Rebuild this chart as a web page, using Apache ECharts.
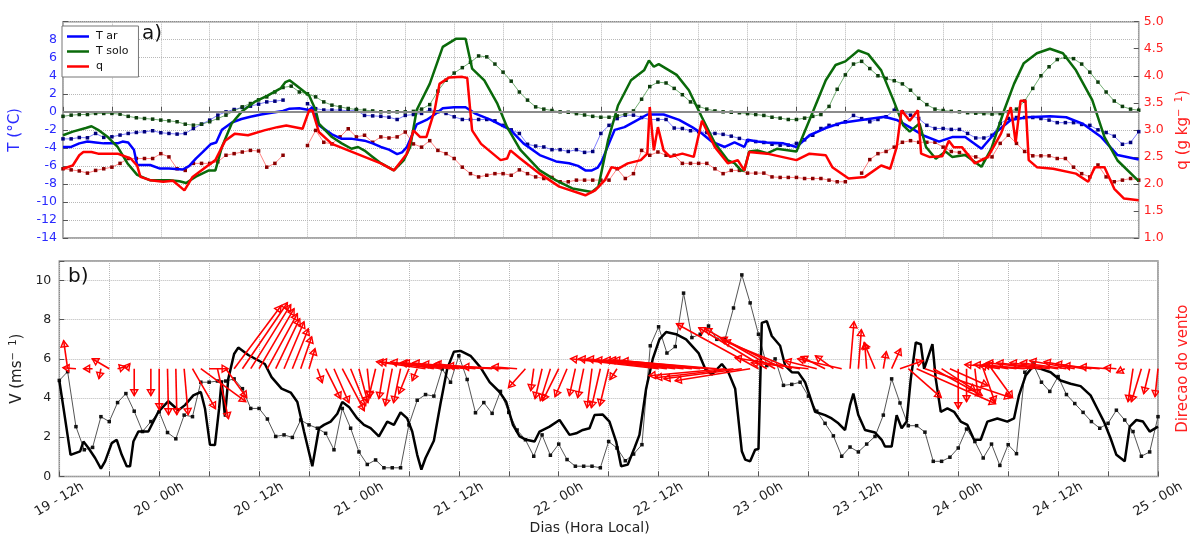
<!DOCTYPE html>
<html><head><meta charset="utf-8">
<script src="https://cdn.jsdelivr.net/npm/echarts@6/dist/echarts.min.js"></script>
<style>html,body{margin:0;padding:0;background:#fff}#chart{width:1199px;height:536px}</style>
</head><body><div id="chart"></div>
<script>
// Time axis: hours counted from 19 - 12h (local time) up to 25 - 00h
const T_START = 0, T_END = 132;

// Continuous records [hour, value]
const tAr = [[0,-3.9],[1,-3.9],[2,-3.5],[3,-3.3],[4,-3.4],[5,-3.5],[6,-3.5],[6.7,-3.5],[7.3,-3.3],[8,-3.4],[8.7,-4.2],[9.1,-5.9],[10.7,-5.9],[11.9,-6.3],[13,-6.3],[14.7,-6.4],[15.5,-6.0],[16.3,-5.2],[17.1,-4.5],[18.1,-3.6],[18.8,-3.4],[19.5,-2.0],[20.7,-1.2],[21.9,-0.8],[23,-0.55],[24.3,-0.3],[25.6,-0.1],[27,0.1],[27.8,0.35],[29,0.4],[30.2,0.2],[30.6,0.5],[31.4,-1.5],[32.2,-2.0],[33,-2.5],[34.2,-3.0],[35.5,-3.0],[37,-3.2],[38,-3.5],[39,-3.9],[40,-4.2],[41,-4.7],[41.6,-4.5],[42.2,-3.9],[43.4,-1.4],[44.6,-0.9],[45.6,-0.3],[46.6,0.4],[48,0.5],[49.4,0.5],[50.6,-0.2],[52.5,-0.9],[54.9,-2.0],[56.5,-3.5],[58.5,-4.8],[60.5,-5.5],[62.1,-5.7],[63.2,-6.0],[64.1,-6.5],[64.9,-6.5],[65.6,-6.2],[66.1,-5.5],[67,-3.5],[67.7,-2.0],[68.9,-1.7],[70.3,-1.0],[71.7,-0.3],[73.7,-0.3],[75.6,-0.9],[77.2,-1.7],[78.4,-2.4],[79.6,-3.3],[81.2,-3.9],[82.4,-3.4],[83.6,-3.9],[84,-3.1],[85.2,-3.3],[86.4,-3.4],[88.4,-3.5],[90,-3.9],[91.6,-2.6],[93.6,-1.8],[95.6,-1.2],[98.4,-0.85],[100.8,-0.55],[102.3,-0.9],[103.9,-1.7],[105.5,-2.6],[107.5,-3.3],[109.1,-2.8],[110.7,-2.8],[112.7,-4.1],[114.3,-2.4],[116.3,-0.9],[118.3,-0.6],[121.1,-0.5],[123.1,-0.6],[125.1,-1.3],[127.4,-2.8],[129.4,-4.8],[131,-5.1],[132,-5.3]];

const tSolo = [[0,-2.6],[1.2,-2.2],[2.8,-1.8],[3.5,-1.6],[4.3,-2.0],[5.5,-2.8],[6.7,-3.9],[7.9,-5.7],[9.1,-7.0],[10.7,-7.6],[13.1,-7.6],[14.3,-7.7],[15.1,-7.9],[16.3,-7.2],[17.9,-6.5],[18.7,-6.5],[19.5,-3.9],[20.7,-1.3],[21.9,0],[23.5,1.1],[25.1,1.8],[26.7,2.6],[27.3,3.3],[27.8,3.5],[28.6,2.95],[30.2,1.8],[31,0.2],[31.4,-1.3],[33,-2.8],[34.2,-3.5],[35.4,-4.1],[36.2,-3.9],[37,-4.3],[38,-5.0],[39,-5.7],[40.6,-6.5],[41.8,-5.4],[42.6,-3.9],[43.4,0.2],[45,3.1],[46.6,7.2],[48.2,8.1],[49.4,8.1],[50.2,4.8],[51.7,3.5],[53.3,0.9],[54.5,-1.7],[56.1,-4.2],[58.5,-6.5],[60.5,-7.6],[62.5,-8.5],[64.9,-8.9],[65.7,-8.3],[66.9,-3.1],[68.1,0.7],[69.7,3.5],[71.3,4.6],[71.9,5.7],[72.5,5.0],[73.1,5.3],[75.3,4.1],[76.8,2.4],[78.4,-0.6],[80,-3.5],[81.6,-5.4],[82.4,-5.7],[83.2,-6.5],[83.6,-6.5],[84.2,-4.4],[85.2,-4.3],[86.4,-4.6],[87.6,-4.1],[90,-4.4],[91.6,-0.9],[93.6,3.5],[94.8,5.2],[96,5.6],[97.6,6.8],[98.8,6.4],[100.4,4.6],[101.9,1.3],[103.1,-1.5],[103.9,-2.2],[105.1,-1.3],[105.9,-3.9],[107.1,-5.2],[108.3,-4.4],[109.1,-5.0],[110.7,-4.8],[112.7,-6.1],[113.9,-4.1],[115.5,0.2],[116.7,3.1],[117.9,5.4],[119.5,6.5],[121.1,7.0],[122.7,6.5],[124.3,4.6],[126.3,1.3],[127.8,-2.8],[129.4,-5.4],[132,-7.7]];

const qSolid = [[0,2.28],[1.2,2.34],[2,2.53],[2.5,2.59],[3.5,2.59],[4.3,2.56],[6.7,2.56],[8.3,2.47],[9.1,2.34],[9.5,2.13],[10.7,2.07],[12.3,2.04],[13.5,2.06],[14.9,1.88],[15.9,2.13],[17.5,2.31],[18.7,2.44],[19.9,2.8],[21.1,2.93],[22.7,2.9],[24.7,2.99],[26.3,3.05],[27.4,3.08],[29.4,3.02],[30.2,3.36],[30.6,3.36],[31.4,2.96],[33,2.74],[35,2.62],[37,2.5],[39,2.38],[40.6,2.25],[42.2,2.56],[43,2.99],[43.8,2.87],[44.6,2.87],[45.6,3.36],[46.2,3.85],[47.4,3.97],[49,3.98],[49.6,3.96],[50.2,2.99],[51.3,2.74],[53.7,2.44],[54.5,2.47],[54.9,2.62],[56.1,2.47],[58.5,2.19],[60.9,1.95],[64.1,1.79],[65.3,1.88],[66.5,2.07],[67.3,2.31],[68.1,2.28],[69.3,2.38],[70.9,2.44],[71.7,2.56],[72,3.42],[72.5,2.62],[73,3.05],[73.7,2.62],[74.5,2.5],[76,2.56],[77.4,2.5],[78.4,3.17],[80,2.68],[81.6,2.38],[82.8,2.44],[83.6,2.25],[84.2,2.59],[86.4,2.56],[90,2.44],[91.6,2.56],[93.6,2.53],[94.4,2.31],[96.4,2.1],[98.4,2.13],[100.4,2.34],[101.5,2.28],[102.3,2.68],[102.9,3.36],[103.9,3.17],[104.9,3.36],[105.3,2.56],[106.3,2.5],[107.9,2.51],[108.7,2.8],[109.3,2.68],[110.3,2.68],[111.9,2.38],[113.5,2.5],[115.1,2.93],[116.3,3.42],[116.9,2.77],[117.5,3.54],[118.1,3.54],[118.5,2.44],[119.5,2.31],[121.5,2.28],[124.3,2.19],[125.8,2.04],[126.6,2.31],[127.8,2.31],[129,1.91],[130.2,1.73],[132,1.70]];

const vSolid = [[0,4.9],[0.5,3.5],[1.35,1.1],[2.5,1.28],[2.9,1.78],[3.5,1.45],[4.3,0.94],[5,0.4],[5.5,0.77],[6.3,1.7],[6.9,1.87],[7.5,1.1],[8.1,0.52],[8.5,0.52],[8.9,1.78],[9.5,2.29],[10.7,2.29],[11.9,3.3],[13.1,3.84],[14.3,3.38],[15.1,3.64],[16.1,4.14],[17,4.31],[17.5,3.47],[18.1,1.62],[18.7,1.6],[19.2,3.47],[19.5,4.9],[19.9,3.05],[20.3,4.98],[21,6.25],[21.5,6.58],[22.7,6.2],[24.7,5.74],[25.5,5.07],[26.7,4.48],[27.8,4.28],[28.6,3.8],[29.4,2.29],[30.4,0.52],[31.2,2.46],[31.8,2.63],[32.6,2.8],[33.4,3.2],[34,3.8],[34.8,3.55],[35.8,2.96],[36.6,2.63],[37.4,2.46],[38.4,2.04],[39.4,2.8],[40.2,2.63],[41,3.27],[41.8,2.96],[42.4,2.29],[43,1.1],[43.5,0.35],[44,0.94],[45,1.82],[45.8,3.72],[46.6,5.49],[47.4,6.36],[48.2,6.41],[49.4,6.16],[50.6,5.57],[51.7,4.81],[52.9,4.31],[53.7,3.8],[54.5,2.63],[55.3,2.04],[56.1,1.87],[57.1,1.78],[57.7,2.29],[58.9,2.54],[60.1,2.88],[61.3,2.12],[62.1,2.2],[62.9,2.37],[63.7,2.46],[64.3,3.13],[65.3,3.16],[66.1,2.8],[66.9,1.78],[67.5,0.52],[68.3,0.6],[69.1,1.45],[69.7,2.12],[70.5,4.48],[71.3,6.0],[72.1,7.0],[72.9,7.37],[74.1,7.26],[75.3,7.0],[76.8,6.3],[77.6,5.5],[78.4,5.2],[79.6,5.74],[80.4,5.3],[81.2,4.48],[82,1.28],[82.4,0.86],[83,0.77],[83.6,1.36],[84,1.4],[84.4,7.84],[85,7.93],[85.6,7.17],[86.6,6.67],[87.2,5.66],[88,5.32],[88.8,5.3],[89.6,4.81],[90.8,3.3],[92,3.13],[92.8,2.96],[93.6,2.71],[94.4,2.37],[95,3.64],[95.4,4.23],[96,3.13],[96.8,2.37],[98,2.24],[98.8,1.87],[99.2,1.53],[100,1.53],[100.6,3.13],[101.2,2.46],[101.8,2.8],[102.3,4.98],[102.9,6.84],[103.5,6.75],[103.9,5.49],[104.9,6.75],[105.3,4.98],[105.9,3.3],[106.7,3.47],[107.5,3.3],[108.3,2.8],[109.1,2.63],[109.9,1.87],[110.7,1.87],[111.5,2.8],[112.7,2.96],[113.9,2.8],[114.7,2.96],[115.3,4.14],[116.1,5.15],[116.9,5.57],[117.9,5.49],[119.1,5.32],[120.3,4.9],[121.5,4.73],[122.7,4.61],[123.9,4.14],[124.7,3.47],[125.5,2.8],[126.3,1.95],[127,1.1],[128,0.77],[128.6,2.54],[129.4,2.88],[130.2,2.8],[131,2.29],[132,2.54]];

// Hourly records, index = hour from T_START (null = missing)
const tArDots = [-3.0,-3.0,-2.85,-2.88,-2.4,-2.84,-2.77,-2.58,-2.4,-2.29,-2.21,-2.1,
 -2.32,-2.4,-2.47,-2.4,-1.85,-1.37,-0.92,-0.37,0,0.26,0.48,0.63,
 0.85,1.1,1.18,1.3,null,null,0.9,0.35,0.2,0.2,0.2,0.1,
 0.2,-0.4,-0.45,-0.5,-0.6,-0.85,-0.4,-0.3,-0.18,0.26,0,-0.18,
 -0.55,-0.85,-0.85,-0.85,-0.85,-1.0,-1.5,-2.0,-2.4,-3.6,-3.8,-3.9,
 -4.2,-4.2,-4.4,-4.2,-4.5,-4.4,-2.4,-1.5,-0.75,-0.37,-0.37,-0.63,
 -0.85,-0.85,-0.85,-1.8,-1.85,-2.1,-2.2,-2.3,-2.4,-2.5,-2.7,-2.95,
 -3.2,-3.3,-3.4,-3.6,-3.7,-3.7,-3.5,-3.1,-2.6,-1.85,-1.5,-1.4,
 -1.1,-0.4,-0.75,-1.1,-0.85,-0.55,0.18,0.0,-0.37,-0.74,-1.5,-1.85,
 -1.85,-1.95,-1.95,-2.4,-2.9,-2.9,-2.6,-1.3,-0.74,-0.63,-0.63,-0.63,
 -0.74,-0.92,-1.2,-1.2,-1.2,-1.4,-1.5,-2.0,-2.3,-2.7,-3.6,-3.4,
 -2.2];

const tSoloDots = [-0.5,-0.37,-0.3,-0.3,-0.18,-0.18,-0.18,-0.26,-0.5,-0.66,-0.74,-0.81,
 -0.92,-1.0,-1.1,-1.37,-1.48,-1.37,-1.1,-0.74,-0.37,0.1,0.55,0.92,
 1.33,1.66,2.2,2.7,2.85,2.2,2.0,1.66,1.1,0.74,0.55,0.37,
 0.26,0.18,0.1,0,0,0,0,0.05,0.3,0.8,2.3,3.5,
 4.3,4.9,5.5,6.2,6.1,5.3,4.4,3.4,2.2,1.3,0.55,0.3,
 0.15,0,-0.05,-0.2,-0.35,-0.5,-0.6,-0.6,-0.45,-0.25,0.1,1.4,
 2.8,3.3,3.2,2.6,1.9,1.1,0.6,0.3,0.1,0,-0.05,-0.1,
 -0.2,-0.3,-0.4,-0.6,-0.7,-0.85,-0.85,-0.7,-0.5,-0.3,0.6,2.5,
 4.1,5.3,5.6,4.8,4.0,3.7,3.45,3.1,2.4,1.5,0.8,0.3,
 0.15,0.05,0,-0.1,-0.15,-0.2,-0.25,-0.2,0,0.3,1.2,2.6,
 4.0,5.0,5.8,6.05,5.9,5.3,4.4,3.3,2.2,1.2,0.6,0.3,
 0.18];

const qDots = [2.28,2.26,2.24,2.2,2.25,2.28,2.31,2.38,2.47,2.47,2.47,2.47,
 2.56,2.5,2.28,2.25,2.38,2.38,2.38,2.41,2.53,2.56,2.59,2.62,
 2.61,2.31,2.38,2.53,null,null,2.71,2.99,2.77,2.74,2.87,3.02,
 2.87,2.9,2.77,2.87,2.85,2.87,2.96,2.74,2.68,2.8,2.62,2.56,
 2.47,2.31,2.19,2.13,2.16,2.19,2.19,2.16,2.26,2.19,2.13,2.1,
 2.12,2.04,2.04,2.07,2.07,2.07,2.07,2.07,2.28,2.1,2.19,2.62,
 2.53,2.59,2.53,2.53,2.38,2.38,2.38,2.38,2.28,2.19,2.25,2.25,
 2.2,2.2,2.2,2.13,2.12,2.12,2.12,2.1,2.1,2.1,2.07,2.04,
 2.04,null,2.2,2.45,2.56,2.6,2.68,2.77,2.8,2.77,2.77,2.77,
 2.68,2.6,2.58,2.53,2.5,2.45,2.5,2.75,2.9,2.75,2.6,2.52,
 2.52,2.52,2.47,2.47,2.31,2.19,2.13,2.35,2.13,2.04,2.07,2.1,
 2.07];

const vDots = [4.9,5.35,2.54,1.36,1.48,3.05,2.8,3.77,4.23,3.33,2.29,2.8,
 3.3,2.24,1.92,3.13,3.05,4.81,4.81,4.87,4.87,4.98,4.48,3.47,
 3.47,2.93,2.04,2.12,1.99,2.88,2.63,2.46,2.2,1.36,3.47,2.46,
 1.25,0.61,0.84,0.44,0.44,0.44,2.63,3.89,4.18,4.1,5.49,4.81,
 6.16,4.95,3.25,3.77,3.22,4.34,3.27,2.37,1.87,1.03,2.12,1.08,
 1.65,0.86,0.52,0.52,0.52,0.44,1.78,1.45,0.8,1.14,1.62,6.67,
 7.64,6.3,6.63,9.36,7.09,7.26,7.68,7.0,7.04,8.6,10.29,8.86,
 7.26,5.66,6.0,4.65,4.7,4.81,4.1,3.33,2.71,2.07,1.03,1.5,
 1.25,1.65,2.04,3.13,4.98,3.75,2.59,2.59,2.26,0.77,0.77,0.98,
 1.45,2.42,1.78,0.94,1.65,0.56,1.62,1.16,5.32,5.74,4.81,4.34,
 5.1,4.18,3.72,3.27,2.8,2.46,2.71,3.38,2.88,2.29,1.03,1.25,
 3.05];

// Hourly wind vector components (m/s): u toward east, v toward north
const windU = [null,-0.4,-1.3,null,-0.9,-0.2,-1.7,0.8,0.4,0,null,0,
 0,0.1,0.1,0.4,2.3,4.5,1.9,1.1,2.1,4.7,4.5,4.0,
 3.5,3.0,2.4,2.0,1.6,1.1,0.6,0.5,1.5,1.5,2.2,1.5,
 0.9,0.3,-0.7,-0.5,-0.7,-0.7,-1.0,-0.5,-4.9,-4.3,-6.2,-5.0,
 -4.6,-6.4,-5.3,-4.9,-5.9,-5.3,-4.6,-2.5,-1.7,-0.3,-0.7,-1.0,
 -1.6,-1.2,-0.6,-0.6,-0.5,-0.9,-0.9,-0.7,null,null,null,null,
 -8.8,-8.8,-8.8,-8.8,-8.8,-9.1,-9.5,-9.5,-7.6,-7.8,-7.8,-7.5,
 -8.2,-6.8,-7.0,-6.3,-6.8,-6.5,-5.7,-3.2,-2.4,-1.8,-4.4,0.4,
 0.3,-0.2,-1.1,0.3,0.9,2.3,3.3,7.9,8.6,4.9,3.4,3.8,
 0,0,0.3,1.2,2.1,-2.0,-2.5,-3.0,-6.0,-5.9,-5.5,-5.3,
 -4.8,-4.6,-4.5,-3.9,-3.6,-3.6,-2.8,-1.2,-0.8,-0.5,-1.0,-0.6,
 -0.3];
const windV = [null,2.8,0.1,null,0,-1.0,1.0,0.2,0.5,-2.7,null,-2.7,
 -4.1,-4.6,-4.6,-4.6,-4.0,-3.3,0,-5.0,-2.9,6.3,6.6,6.4,
 6.0,5.5,5.0,4.7,4.0,3.2,2.0,-1.4,-3.0,-3.4,-4.2,-3.7,
 -3.4,-2.9,-2.9,-3.0,-3.7,-3.4,-2.5,-1.2,0.7,0.7,0.7,0.6,
 0.6,0.6,0.5,0.5,0.4,0.3,0.2,0.2,-1.9,-2.2,-3.0,-3.2,
 -3.2,-2.8,-2.7,-2.9,-3.9,-3.9,-3.7,-1.1,null,null,null,null,
 1.0,1.0,1.0,0.9,0.9,0.9,0.9,0.8,-0.7,-0.9,-1.0,-1.2,
 4.5,4.1,4.0,3.1,2.8,1.1,0.6,0.8,1.2,1.3,1.0,4.7,
 3.9,2.6,2.6,1.7,2.0,0.8,-2.9,-3.5,-2.9,-2.7,-2.2,-1.7,
 -4.0,-3.3,-2.7,-3.4,-2.9,0.3,0.4,0.4,0.4,0.4,0.6,0.6,
 0.6,0.6,0.8,0.7,0.5,0.3,0.2,0.1,-0.4,-3.3,-3.3,-2.5,
 -2.8];

// Axis tick values
const tTicks = {min: -14, max: 10, step: 2};
const qTicks = {min: 1.0, max: 5.0, step: 0.5};
const vTicks = {min: 0, max: 11, step: 2};

// Arrow layout on the wind panel
const ARROW_BASE = 5.5;   // V-axis level where the arrows start
const ARROW_SCALE = 10;   // px per m/s

const FONT = 'DejaVu Sans';
const hourly = arr => arr.map((v, i) => [T_START + i, v]);
const windData = windU.map((u, i) => u === null ? null : [T_START + i, u, windV[i]]).filter(d => d);

function hourLabel(h) {
  if (h % 12 !== 0) return '';
  const day = 19 + Math.floor((h + 12) / 24);
  const hr = (h + 12) % 24;
  return day + ' - ' + (hr < 10 ? '0' : '') + hr + 'h';
}

const dotted = {type: 'dotted', color: '#b8b8b8', width: 1};
const xBase = {
  type: 'value', min: T_START, max: T_END, interval: 6,
  axisLine: {show: false},
  axisTick: {show: true, inside: true, length: 5, lineStyle: {color: '#555'}},
  splitLine: {show: true, lineStyle: dotted}
};

const chart = echarts.init(document.getElementById('chart'), null, {renderer: 'canvas'});
chart.setOption({
  animation: false,
  backgroundColor: '#fff',
  textStyle: {fontFamily: FONT},
  grid: [
    {left: 57, right: 37.5, top: 21.7, height: 216.3, show: true, borderColor: '#8c8c8c', borderWidth: 1.5},
    {left: 57, right: 37.5, top: 261, height: 217.7, show: true, borderColor: '#8c8c8c', borderWidth: 1.5}
  ],
  title: [
    {text: 'a)', left: 137, top: 19, textStyle: {fontFamily: FONT, fontSize: 20, fontWeight: 'normal', color: '#111'}},
    {text: 'b)', left: 63, top: 262, textStyle: {fontFamily: FONT, fontSize: 20, fontWeight: 'normal', color: '#111'}}
  ],
  legend: {
    data: ['T ar', 'T solo', 'q'], orient: 'vertical', left: 62, top: 26,
    icon: 'rect', itemWidth: 22, itemHeight: 2.5, itemGap: 4, padding: [5, 10, 5, 5],
    borderColor: '#777', borderWidth: 1, backgroundColor: '#fff',
    textStyle: {fontFamily: FONT, fontSize: 11, color: '#111', padding: [0, 0, 0, 2]}
  },
  xAxis: [
    Object.assign({}, xBase, {gridIndex: 0, axisLabel: {show: false}}),
    Object.assign({}, xBase, {
      gridIndex: 1,
      axisLabel: {show: true, rotate: 30, margin: 23, align: 'center', verticalAlign: 'middle',
        fontSize: 13, color: '#222', fontFamily: FONT,
        formatter: hourLabel, showMinLabel: true, showMaxLabel: true},
      name: 'Dias (Hora Local)', nameLocation: 'middle', nameGap: 34,
      nameTextStyle: {fontSize: 14, color: '#222', fontFamily: FONT, padding: [0, 38, 0, 0]}
    })
  ],
  yAxis: [
    {gridIndex: 0, type: 'value', position: 'left', min: tTicks.min, max: tTicks.max, interval: tTicks.step,
      axisLine: {show: false}, axisTick: {show: true, inside: true, length: 5, lineStyle: {color: '#555'}},
      splitLine: {show: true, lineStyle: dotted},
      axisLabel: {color: '#2a2aff', fontSize: 12.5, fontFamily: FONT, margin: 6,
        formatter: v => v >= tTicks.max ? '' : String(v)},
      name: 'T (°C)', nameLocation: 'middle', nameRotate: 90, nameGap: 40,
      nameTextStyle: {color: '#2a2aff', fontSize: 15, fontFamily: FONT}},
    {gridIndex: 0, type: 'value', position: 'right', min: qTicks.min, max: qTicks.max, interval: qTicks.step,
      axisLine: {show: false}, axisTick: {show: true, inside: true, length: 5, lineStyle: {color: '#555'}},
      splitLine: {show: false},
      axisLabel: {color: '#ff2020', fontSize: 12.5, fontFamily: FONT, margin: 5, formatter: v => v.toFixed(1)},
      name: 'q (g kg{s|−  1})', nameLocation: 'middle', nameRotate: 90, nameGap: 28,
      nameTextStyle: {color: '#ff2020', fontSize: 15, fontFamily: FONT,
        rich: {s: {fontSize: 10, color: '#ff2020', verticalAlign: 'top', padding: [0, 0, 8, 0]}}}},
    {gridIndex: 1, type: 'value', position: 'left', min: vTicks.min, max: vTicks.max, interval: vTicks.step,
      axisLine: {show: false}, axisTick: {show: true, inside: true, length: 5, lineStyle: {color: '#555'}},
      splitLine: {show: true, lineStyle: dotted},
      axisLabel: {color: '#222', fontSize: 12.5, fontFamily: FONT, margin: 8,
        formatter: v => v > 10 ? '' : String(v)},
      name: 'V (ms{s|−  1})', nameLocation: 'middle', nameRotate: 90, nameGap: 26,
      nameTextStyle: {color: '#222', fontSize: 15, fontFamily: FONT,
        rich: {s: {fontSize: 10, color: '#222', verticalAlign: 'top', padding: [0, 0, 8, 0]}}}},
    {gridIndex: 1, type: 'value', position: 'right', min: 0, max: 1,
      axisLine: {show: false}, axisTick: {show: false}, axisLabel: {show: false}, splitLine: {show: false},
      name: 'Direcao do vento', nameLocation: 'middle', nameRotate: 90, nameGap: 18,
      nameTextStyle: {color: '#ff2020', fontSize: 15, fontFamily: FONT}}
  ],
  series: [
    // second station, hourly
    {name: 'T ar (h)', type: 'line', xAxisIndex: 0, yAxisIndex: 0, data: hourly(tArDots),
      symbol: 'rect', symbolSize: 3.5, itemStyle: {color: '#00007a'},
      lineStyle: {color: 'rgba(40,40,255,0.6)', width: 1}, z: 2},
    {name: 'T solo (h)', type: 'line', xAxisIndex: 0, yAxisIndex: 0, data: hourly(tSoloDots),
      symbol: 'rect', symbolSize: 3.5, itemStyle: {color: '#0d3d0d'},
      lineStyle: {color: 'rgba(0,110,0,0.55)', width: 1}, z: 2},
    {name: 'q (h)', type: 'line', xAxisIndex: 0, yAxisIndex: 1, data: hourly(qDots),
      symbol: 'rect', symbolSize: 3.5, itemStyle: {color: '#8a0000'},
      lineStyle: {color: 'rgba(255,30,30,0.55)', width: 1}, z: 2},
    // continuous records
    {name: 'T ar', type: 'line', xAxisIndex: 0, yAxisIndex: 0, data: tAr, symbol: 'none',
      itemStyle: {color: '#0000ff'}, lineStyle: {color: '#0000ff', width: 2.5}, z: 4,
      markLine: {silent: true, symbol: 'none', label: {show: false},
        lineStyle: {color: '#8c8c8c', width: 2, type: 'solid'}, data: [{yAxis: 0}]}},
    {name: 'T solo', type: 'line', xAxisIndex: 0, yAxisIndex: 0, data: tSolo, symbol: 'none',
      itemStyle: {color: '#0a6a0a'}, lineStyle: {color: '#0a6a0a', width: 2.5}, z: 4},
    {name: 'q', type: 'line', xAxisIndex: 0, yAxisIndex: 1, data: qSolid, symbol: 'none',
      itemStyle: {color: '#ff0000'}, lineStyle: {color: '#ff0000', width: 2.5}, z: 5},
    // wind speed
    {name: 'V (h)', type: 'line', xAxisIndex: 1, yAxisIndex: 2, data: hourly(vDots),
      symbol: 'rect', symbolSize: 3.5, itemStyle: {color: '#111'},
      lineStyle: {color: '#555', width: 1}, z: 2},
    {name: 'V', type: 'line', xAxisIndex: 1, yAxisIndex: 2, data: vSolid, symbol: 'none',
      lineStyle: {color: '#000', width: 2.5}, z: 3},
    // wind direction arrows
    {name: 'vento', type: 'custom', xAxisIndex: 1, yAxisIndex: 2, data: windData, clip: true, z: 6,
      encode: {x: 0},
      renderItem: function (params, api) {
        const h = api.value(0), u = api.value(1), v = api.value(2);
        const p0 = api.coord([h, ARROW_BASE]);
        const p1 = [p0[0] + u * ARROW_SCALE, p0[1] - v * ARROW_SCALE];
        const ang = Math.atan2(p1[1] - p0[1], p1[0] - p0[0]);
        const hl = 6, hw = 3.5;
        const bx = p1[0] - hl * Math.cos(ang), by = p1[1] - hl * Math.sin(ang);
        const nx = -Math.sin(ang) * hw, ny = Math.cos(ang) * hw;
        return {type: 'group', children: [
          {type: 'line', shape: {x1: p0[0], y1: p0[1], x2: p1[0], y2: p1[1]},
            style: {stroke: '#ff0000', lineWidth: 1.6}},
          {type: 'polygon', shape: {points: [[bx + nx, by + ny], [p1[0], p1[1]], [bx - nx, by - ny]]},
            style: {stroke: '#ff0000', fill: 'none', lineWidth: 1.4}}
        ]};
      }}
  ]
});
</script></body></html>
